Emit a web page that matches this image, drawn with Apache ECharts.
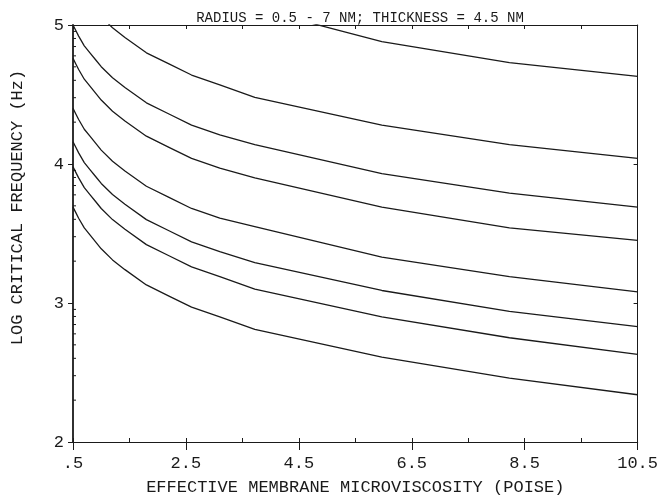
<!DOCTYPE html>
<html>
<head>
    <meta http-equiv="Content-Type" content="text/html; charset=UTF-8">
    <title>Log critical frequency vs microviscosity</title>
    <script type="text/javascript" src="https://cdn.jsdelivr.net/npm/echarts@6/dist/echarts.min.js"></script>
    <style>
        html, body { margin: 0; padding: 0; background: #fff; }
    </style>
</head>
<body>
    <div id="main" style="width: 661px;height:503px;"></div>
    <script type="text/javascript">
        // viscosity sample points (poise)
        var viscosity = [0.5, 0.55, 0.6, 0.7, 0.8, 0.9, 1.0, 1.2, 1.42, 1.8, 2.2, 2.6, 3.1, 3.72, 5.97, 8.23, 10.5];

        // one curve per radius, top to bottom
        var curve1 = [5.95, 5.91, 5.87, 5.80, 5.75, 5.70, 5.65, 5.57, 5.50, 5.40, 5.32, 5.25, 5.18, 5.12, 4.88, 4.73, 4.63];
        var curve2 = [5.36, 5.32, 5.28, 5.21, 5.16, 5.10, 5.06, 4.98, 4.91, 4.80, 4.72, 4.64, 4.57, 4.48, 4.28, 4.14, 4.04];
        var curve3 = [5.00, 4.96, 4.92, 4.85, 4.80, 4.75, 4.70, 4.62, 4.55, 4.44, 4.36, 4.28, 4.21, 4.14, 3.93, 3.79, 3.69];
        var curve4 = [4.76, 4.72, 4.68, 4.61, 4.56, 4.51, 4.46, 4.38, 4.31, 4.20, 4.12, 4.04, 3.97, 3.90, 3.69, 3.54, 3.45];
        var curve5 = [4.40, 4.36, 4.32, 4.25, 4.20, 4.15, 4.10, 4.02, 3.95, 3.84, 3.76, 3.68, 3.61, 3.55, 3.33, 3.19, 3.08];
        var curve6 = [4.16, 4.12, 4.08, 4.01, 3.96, 3.91, 3.86, 3.78, 3.71, 3.60, 3.52, 3.44, 3.37, 3.29, 3.09, 2.94, 2.83];
        var curve7 = [3.98, 3.94, 3.90, 3.83, 3.78, 3.73, 3.68, 3.60, 3.53, 3.42, 3.34, 3.26, 3.19, 3.10, 2.90, 2.75, 2.63];
        var curve8 = [3.69, 3.65, 3.61, 3.54, 3.49, 3.44, 3.39, 3.31, 3.24, 3.13, 3.05, 2.97, 2.90, 2.81, 2.61, 2.46, 2.34];
        var curves = [curve1, curve2, curve3, curve4, curve5, curve6, curve7, curve8];

        // axis labels
        var xTickLabels = ['.5', '2.5', '4.5', '6.5', '8.5', '10.5'];
        var yTickLabels = ['2', '3', '4', '5'];
        // log minor ticks on the left axis
        var yMinorTicks = [2.301, 2.477, 2.602, 2.699, 2.778, 2.845, 2.903, 2.954,
                           3.301, 3.477, 3.602, 3.699, 3.778, 3.845, 3.903, 3.954,
                           4.301, 4.477, 4.602, 4.699, 4.778, 4.845, 4.903, 4.954];

        var FONT = 'Liberation Mono';
        var INK = '#1a1a1a';
        var xMin = 0.5, xMax = 10.5;

        var series = [];
        for (var i = 0; i < curves.length; i++) {
            var pts = [];
            for (var j = 0; j < viscosity.length; j++) {
                pts.push([viscosity[j], curves[i][j]]);
            }
            series.push({
                type: 'line',
                xAxisIndex: 0,
                yAxisIndex: 0,
                data: pts,
                showSymbol: false,
                smooth: false,
                clip: true,
                lineStyle: { color: INK, width: 1.3 }
            });
        }
        // minor ticks (inside, left axis)
        series.push({
            type: 'custom',
            xAxisIndex: 0,
            yAxisIndex: 0,
            data: yMinorTicks,
            clip: false,
            renderItem: function (params, api) {
                var p = api.coord([xMin, api.value(0)]);
                return {
                    type: 'line',
                    shape: { x1: p[0], y1: p[1], x2: p[0] + 3, y2: p[1] },
                    style: { stroke: INK, lineWidth: 1 }
                };
            }
        });

        var myChart = echarts.init(document.getElementById('main'));
        myChart.setOption({
            animation: false,
            backgroundColor: '#fff',
            title: {
                text: 'RADIUS = 0.5 - 7 NM; THICKNESS = 4.5 NM',
                left: 355, top: 6, textAlign: 'center',
                textStyle: { fontFamily: FONT, fontSize: 14, fontWeight: 'normal', color: INK }
            },
            grid: { left: 73, right: 23, top: 25, bottom: 61 },
            xAxis: [{
                type: 'value', position: 'bottom', min: xMin, max: xMax, interval: 2,
                axisLine: { lineStyle: { color: INK, width: 1.2 } },
                axisTick: { inside: false, length: 8, lineStyle: { color: INK } },
                splitLine: { show: false },
                axisLabel: {
                    margin: 13, color: INK, fontFamily: FONT, fontSize: 17,
                    formatter: function (v) {
                        return xTickLabels[Math.round((v - xMin) / 2)];
                    }
                },
                name: 'EFFECTIVE MEMBRANE MICROVISCOSITY (POISE)',
                nameLocation: 'middle', nameGap: 37,
                nameTextStyle: { fontFamily: FONT, fontSize: 17, color: INK }
            }, {
                type: 'value', position: 'bottom', min: xMin, max: xMax, interval: 1,
                axisLine: { show: false },
                axisTick: { inside: true, length: 4, lineStyle: { color: INK } },
                axisLabel: { show: false },
                splitLine: { show: false }
            }, {
                type: 'value', position: 'top', min: xMin, max: xMax, interval: 1,
                axisLine: { lineStyle: { color: INK, width: 1.2 } },
                axisTick: { inside: true, length: 4, lineStyle: { color: INK } },
                axisLabel: { show: false },
                splitLine: { show: false }
            }],
            yAxis: [{
                type: 'value', position: 'left', min: 2, max: 5, interval: 1,
                axisLine: { show: true, lineStyle: { color: INK, width: 1.8 } },
                axisTick: { show: true, inside: false, length: 5, lineStyle: { color: INK } },
                splitLine: { show: false },
                axisLabel: {
                    margin: 9, color: INK, fontFamily: FONT, fontSize: 17,
                    formatter: function (v) {
                        return yTickLabels[Math.round(v - 2)];
                    }
                },
                name: 'LOG CRITICAL FREQUENCY (Hz)',
                nameLocation: 'middle', nameGap: 47, nameRotate: 90,
                nameTextStyle: { fontFamily: FONT, fontSize: 17, color: INK, padding: [0, 0, 0, 52] }
            }, {
                type: 'value', position: 'right', min: 2, max: 5, interval: 1,
                axisLine: { show: true, lineStyle: { color: INK, width: 1 } },
                axisTick: { show: true, inside: true, length: 4, lineStyle: { color: INK } },
                axisLabel: { show: false },
                splitLine: { show: false }
            }],
            series: series
        });
    </script>
</body>
</html>
